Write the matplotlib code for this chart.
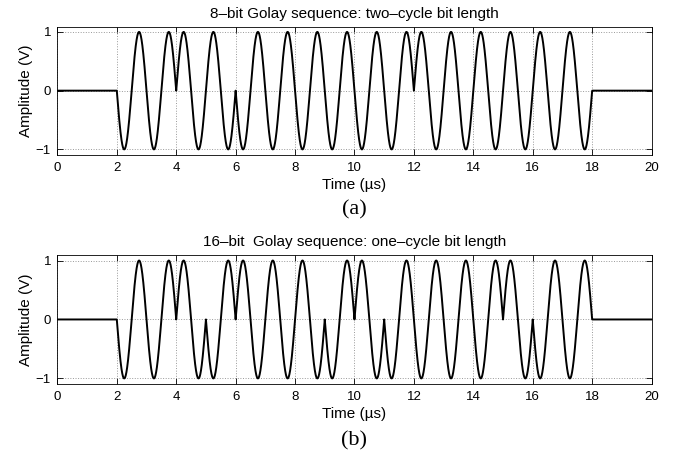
import numpy as np
import matplotlib.pyplot as plt

# bit sequences (phase flips give the cusps)
golay_8 = [1, -1, 1, 1, 1, -1, -1, -1]
golay_16 = [1, 1, -1, 1, -1, -1, -1, 1, -1, 1, 1, 1, 1, -1, 1, 1]

f0 = 1.0          # carrier, MHz (1 cycle per us)
t_start = 2.0     # us
t_end = 18.0
xticks = [0, 2, 4, 6, 8, 10, 12, 14, 16, 18, 20]
yticks = [-1, 0, 1]

titles = ['8\u2013bit Golay sequence: two\u2013cycle bit length',
          '16\u2013bit  Golay sequence: one\u2013cycle bit length']
tags = ['(a)', '(b)']

plt.rcParams['font.family'] = ['Liberation Sans', 'DejaVu Sans']


def coded_burst(bits, t):
    bitlen = (t_end - t_start) / len(bits)
    y = np.zeros_like(t)
    on = (t >= t_start) & (t <= t_end)
    k = np.clip(((t[on] - t_start) // bitlen).astype(int), 0, len(bits) - 1)
    y[on] = -np.array(bits)[k] * np.sin(2 * np.pi * f0 * (t[on] - t_start))
    return y


t = np.linspace(0, 20, 20001)

fig = plt.figure(figsize=(6.83, 4.59), dpi=100)
boxes = [[0.084, 0.663, 0.870, 0.279], [0.084, 0.164, 0.870, 0.280]]
tag_y = [0.542, 0.039]

for i, bits in enumerate([golay_8, golay_16]):
    ax = fig.add_axes(boxes[i])
    ax.plot(t, coded_burst(bits, t), color='black', lw=1.4)
    ax.set_xlim(0, 20)
    ax.set_ylim(-1.09, 1.09)
    ax.set_xticks(xticks)
    ax.set_yticks(yticks)
    ax.set_yticklabels(['\u22121', '0', '1'])
    ax.grid(True, linestyle=':', color='#999999', lw=0.7)
    ax.tick_params(direction='in', top=True, right=True, labelsize=9.5,
                   length=4, width=0.6, pad=4.5)
    ax.tick_params(axis='x', pad=5.5)
    for s in ax.spines.values():
        s.set_linewidth(0.6)
    ax.set_title(titles[i], fontsize=11, pad=6.5)
    ax.set_ylabel('Amplitude (V)', fontsize=11, labelpad=2)
    ax.set_xlabel('Time (\u00b5s)', fontsize=11, labelpad=2.5)
    fig.text(0.519, tag_y[i], tags[i], ha='center', va='center',
             fontsize=16, family='Liberation Serif')

fig.savefig('out.png', dpi=100)
